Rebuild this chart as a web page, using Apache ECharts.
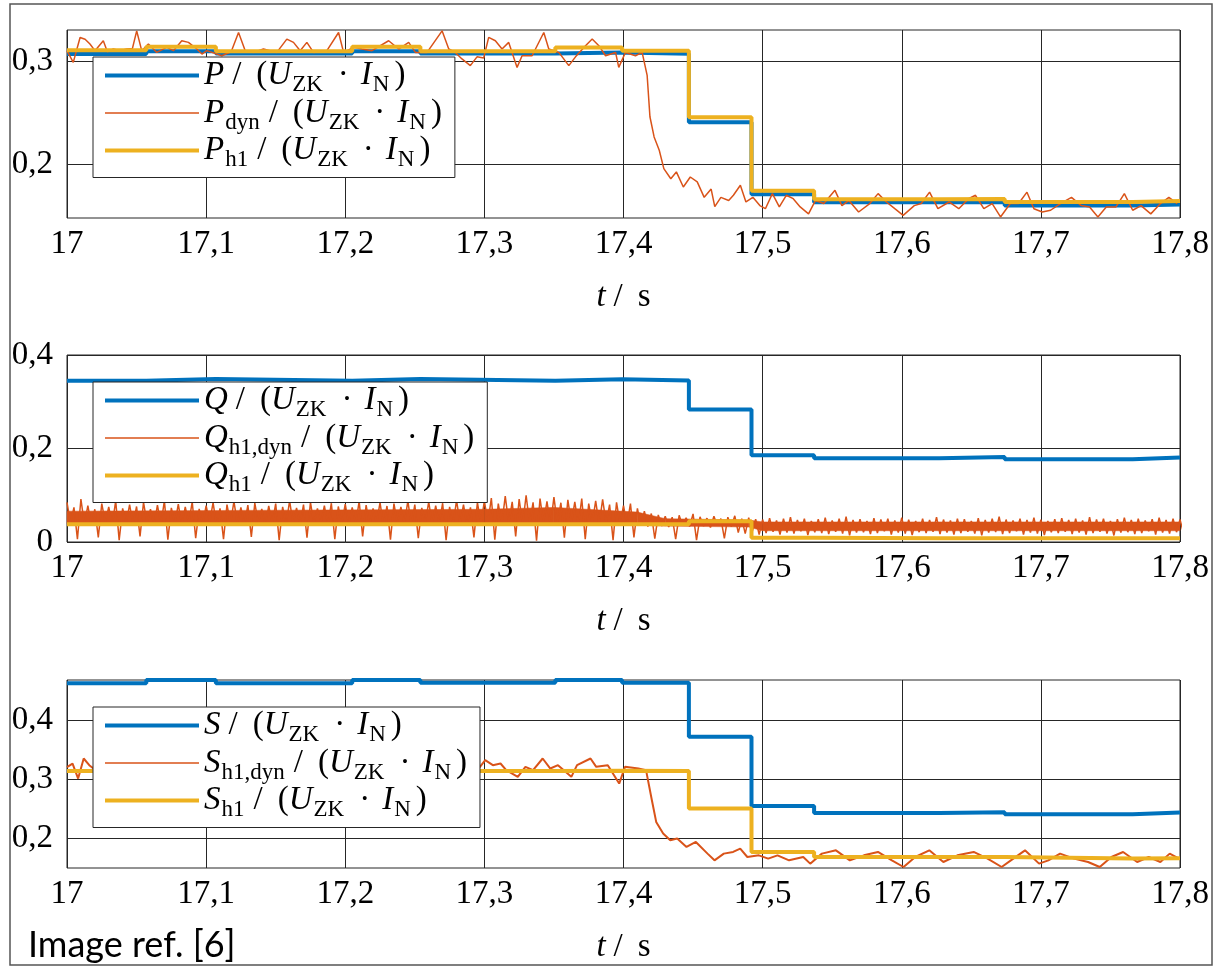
<!DOCTYPE html>
<html><head><meta charset="utf-8">
<script src="https://cdn.jsdelivr.net/npm/echarts@6/dist/echarts.min.js"></script>
<style>html,body{margin:0;padding:0;background:#fff}#c{width:1214px;height:972px}</style>
</head><body><div id="c"></div>
<script>
// ---- data ----
const xTicks = [17, 17.1, 17.2, 17.3, 17.4, 17.5, 17.6, 17.7, 17.8];
const stepT = [17.000, 17.057, 17.107, 17.205, 17.254, 17.351, 17.399, 17.447, 17.492, 17.537, 17.627, 17.674, 17.766, 17.800];
const pVals   = [0.3068, 0.3095, 0.3072, 0.3095, 0.3072, 0.3083, 0.3070, 0.2408, 0.1710, 0.1632, 0.1632, 0.1600, 0.1610, 0.1610];
const ph1Vals = [0.3105, 0.3138, 0.3095, 0.3138, 0.3095, 0.3130, 0.3100, 0.2455, 0.1745, 0.1662, 0.1665, 0.1635, 0.1645, 0.1645];
const qVals   = [0.3450, 0.3485, 0.3450, 0.3485, 0.3450, 0.3480, 0.3457, 0.2836, 0.1857, 0.1793, 0.1820, 0.1770, 0.1810, 0.1810];
const qh1Vals = [0.0380, 0.0380, 0.0380, 0.0380, 0.0380, 0.0380, 0.0380, 0.0443, 0.0090, 0.0078, 0.0082, 0.0078, 0.0082, 0.0082];
const sVals   = [0.4624, 0.4680, 0.4624, 0.4680, 0.4635, 0.4680, 0.4635, 0.3717, 0.2544, 0.2425, 0.2436, 0.2402, 0.2430, 0.2430];
const sh1Vals = [0.3135, 0.3135, 0.3135, 0.3135, 0.3135, 0.3140, 0.3135, 0.2499, 0.1762, 0.1677, 0.1677, 0.1650, 0.1655, 0.1655];

const pdynData = [
 [17.000,0.310],[17.0045,0.2987],[17.0094,0.3228],[17.013,0.321],[17.0165,0.3164],[17.0201,0.310],[17.0261,0.3196],[17.029,0.309],
 [17.0333,0.3116],[17.038,0.310],[17.0429,0.3116],[17.047,0.312],[17.0501,0.3292],[17.0537,0.310],[17.0585,0.3164],[17.0645,0.3083],
 [17.0717,0.3132],[17.0765,0.310],[17.0825,0.3196],[17.0873,0.318],[17.0933,0.3116],[17.097,0.3067],[17.1005,0.310],[17.1113,0.3051],
 [17.118,0.309],[17.1233,0.3276],[17.1281,0.310],[17.1341,0.3083],[17.1412,0.3116],[17.1508,0.3083],[17.158,0.3212],[17.1628,0.318],
 [17.1676,0.310],[17.1724,0.318],[17.1772,0.3083],[17.182,0.3090],[17.1868,0.310],[17.1952,0.3276],[17.1988,0.3083],[17.206,0.3132],
 [17.212,0.3116],[17.2192,0.310],[17.2312,0.3196],[17.2384,0.3116],[17.2456,0.318],[17.2504,0.3083],[17.2588,0.3083],[17.2696,0.3292],
 [17.2744,0.3116],[17.2791,0.3083],[17.2839,0.302],[17.2899,0.2955],[17.2947,0.304],[17.2995,0.303],[17.3031,0.3228],[17.3079,0.3196],
 [17.3127,0.3116],[17.3175,0.318],[17.3235,0.2938],[17.3271,0.3051],[17.3343,0.3051],[17.3427,0.3276],[17.3463,0.3116],[17.3535,0.3083],
 [17.3607,0.2955],[17.3655,0.304],[17.3727,0.3148],[17.3775,0.3212],[17.3823,0.3148],[17.3871,0.3051],[17.3943,0.3083],[17.3966,0.2938],
 [17.4014,0.3083],[17.4086,0.3051],[17.4134,0.3083],[17.417,0.286],[17.419,0.246],[17.422,0.2265],[17.4257,0.2136],[17.429,0.1958],
 [17.434,0.186],[17.438,0.1926],[17.443,0.178],[17.448,0.1877],[17.453,0.183],[17.458,0.168],[17.463,0.176],[17.4656,0.159],
 [17.47,0.168],[17.4756,0.165],[17.479,0.170],[17.484,0.1797],[17.488,0.1635],[17.493,0.168],[17.498,0.160],[17.502,0.157],
 [17.507,0.1716],[17.512,0.1587],[17.517,0.170],[17.522,0.1667],[17.527,0.1587],[17.533,0.152],[17.538,0.165],[17.544,0.162],
 [17.552,0.1748],[17.557,0.160],[17.562,0.165],[17.569,0.1538],[17.577,0.162],[17.583,0.1716],[17.589,0.1635],[17.595,0.157],
 [17.601,0.1506],[17.609,0.160],[17.614,0.162],[17.62,0.173],[17.626,0.157],[17.634,0.1635],[17.641,0.157],[17.648,0.1667],
 [17.653,0.170],[17.659,0.157],[17.665,0.162],[17.671,0.149],[17.678,0.162],[17.684,0.162],[17.69,0.173],[17.695,0.157],
 [17.701,0.1538],[17.707,0.1555],[17.714,0.162],[17.722,0.168],[17.729,0.160],[17.735,0.1587],[17.741,0.149],[17.747,0.1587],
 [17.754,0.1587],[17.76,0.1716],[17.766,0.1555],[17.772,0.160],[17.779,0.152],[17.786,0.162],[17.792,0.168],[17.798,0.162]
];

const sdynData = [
 [17.000,0.3201],[17.004,0.326],[17.008,0.3007],[17.012,0.3348],[17.016,0.3235],[17.02,0.316],[17.03,0.322],[17.04,0.312],
 [17.05,0.330],[17.06,0.314],[17.07,0.318],[17.08,0.322],[17.09,0.313],[17.10,0.316],[17.11,0.308],[17.12,0.330],
 [17.13,0.314],[17.14,0.315],[17.15,0.312],[17.16,0.324],[17.17,0.314],[17.18,0.318],[17.19,0.315],[17.195,0.330],
 [17.20,0.313],[17.21,0.316],[17.22,0.314],[17.23,0.323],[17.24,0.315],[17.25,0.318],[17.26,0.313],[17.27,0.332],
 [17.28,0.313],[17.29,0.300],[17.3006,0.332],[17.3061,0.3235],[17.3116,0.3263],[17.3157,0.315],[17.324,0.3037],[17.3295,0.3207],
 [17.335,0.315],[17.3419,0.3348],[17.3474,0.3178],[17.3529,0.3235],[17.3625,0.3037],[17.3666,0.3235],[17.3763,0.3348],[17.3804,0.3207],
 [17.3887,0.3235],[17.3969,0.2923],[17.4011,0.3207],[17.4107,0.3178],[17.4162,0.315],[17.4204,0.264],[17.4235,0.2272],[17.4285,0.2074],
 [17.4336,0.196],[17.4386,0.1989],[17.4453,0.1847],[17.452,0.1932],[17.4604,0.1734],[17.4654,0.162],[17.4721,0.1734],[17.4788,0.1762],
 [17.4839,0.1819],[17.489,0.1677],[17.4973,0.1705],[17.504,0.1649],[17.5107,0.1705],[17.519,0.162],[17.5292,0.1677],[17.5342,0.1564],
 [17.5426,0.1734],[17.5527,0.179],[17.5627,0.162],[17.5728,0.1705],[17.5829,0.1762],[17.5929,0.162],[17.6013,0.1507],[17.6097,0.1677],
 [17.6198,0.179],[17.6299,0.1592],[17.64,0.1705],[17.6517,0.1762],[17.6617,0.1649],[17.6718,0.1507],[17.6802,0.1649],[17.6886,0.179],
 [17.6987,0.1564],[17.7054,0.162],[17.7138,0.1734],[17.7238,0.1649],[17.7339,0.1592],[17.7423,0.1507],[17.7507,0.1677],[17.7591,0.1762],
 [17.7692,0.1592],[17.7775,0.1677],[17.7859,0.1592],[17.7926,0.1734],[17.7993,0.1649]
];

// Q_h1,dyn: upper and lower envelope of the noisy band, every 5 ms from 17.000 s
const qdynStart = 17.0, qdynStep = 0.005;
const qdynHi = [
 0.085,0.074,0.092,0.078,0.070,0.082,0.075,0.088,0.072,0.080,
 0.076,0.085,0.070,0.079,0.088,0.073,0.081,0.075,0.086,0.071,
 0.078,0.084,0.072,0.080,0.087,0.074,0.079,0.083,0.071,0.077,
 0.082,0.075,0.088,0.073,0.080,0.085,0.072,0.078,0.083,0.076,
 0.081,0.074,0.087,0.079,0.072,0.084,0.077,0.082,0.075,0.088,
 0.080,0.073,0.086,0.078,0.083,0.075,0.089,0.080,0.074,0.085,
 0.088,0.094,0.082,0.098,0.086,0.092,0.100,0.085,0.093,0.087,
 0.096,0.084,0.090,0.086,0.093,0.082,0.088,0.091,0.080,0.085,
 0.078,0.082,0.072,0.066,0.061,0.058,0.055,0.053,0.057,0.052,
 0.060,0.054,0.051,0.055,0.050,0.053,0.056,0.050,0.052,0.049,
 0.048,0.051,0.046,0.050,0.053,0.047,0.050,0.045,0.049,0.052,
 0.046,0.050,0.054,0.047,0.049,0.045,0.051,0.048,0.050,0.046,
 0.052,0.048,0.045,0.050,0.047,0.053,0.048,0.046,0.050,0.049,
 0.045,0.051,0.047,0.050,0.054,0.048,0.046,0.050,0.047,0.052,
 0.048,0.045,0.049,0.051,0.047,0.050,0.046,0.053,0.048,0.050,
 0.045,0.049,0.052,0.047,0.050,0.046,0.049,0.052,0.047,0.050,
 0.048
];
const qdynLo = [
 0.040,0.006,0.038,0.035,0.010,0.042,0.036,0.004,0.040,0.037,
 0.012,0.041,0.035,0.038,0.005,0.039,0.036,0.040,0.008,0.037,
 0.042,0.035,0.006,0.040,0.038,0.036,0.011,0.041,0.035,0.039,
 0.004,0.037,0.040,0.036,0.009,0.038,0.041,0.035,0.006,0.040,
 0.037,0.039,0.012,0.036,0.041,0.035,0.005,0.040,0.038,0.036,
 0.008,0.041,0.037,0.039,0.004,0.036,0.040,0.035,0.010,0.038,
 0.041,0.005,0.037,0.040,0.012,0.036,0.039,0.003,0.041,0.035,
 0.038,0.009,0.040,0.036,0.006,0.039,0.037,0.041,0.004,0.038,
 0.036,0.010,0.035,0.033,0.007,0.034,0.032,0.006,0.035,0.033,
 0.004,0.034,0.031,0.035,0.008,0.033,0.020,0.018,0.022,0.016,
 0.019,0.022,0.016,0.020,0.018,0.023,0.015,0.021,0.019,0.017,
 0.022,0.018,0.014,0.020,0.021,0.017,0.019,0.023,0.016,0.020,
 0.018,0.015,0.021,0.019,0.022,0.017,0.020,0.016,0.019,0.022,
 0.018,0.014,0.020,0.021,0.017,0.019,0.023,0.016,0.020,0.018,
 0.015,0.021,0.019,0.022,0.017,0.020,0.016,0.019,0.022,0.018,
 0.014,0.020,0.021,0.017,0.019,0.023,0.016,0.020,0.018,0.021,
 0.019
];
// solid core of the Q_h1,dyn band (where the trace is dense)
const qcoreT  = [17.00, 17.30, 17.35, 17.41, 17.43, 17.49, 17.50, 17.80];
const qcoreLo = [0.038, 0.038, 0.038, 0.036, 0.034, 0.032, 0.024, 0.024];
const qcoreHi = [0.066, 0.070, 0.074, 0.064, 0.050, 0.047, 0.043, 0.043];

const yTicks1 = [0.2, 0.3];
const yTicks2 = [0, 0.2, 0.4];
const yTicks3 = [0.2, 0.3, 0.4];

// ---- build ----
const BLUE = '#0072BD', ORANGE = '#D95319', YELLOW = '#EDB120';
const FONT = "'Liberation Serif', 'Times New Roman', serif";
const stepData = vals => stepT.map((t, i) => [t, vals[i]]);
const qdynData = [];
qdynHi.forEach((h, i) => {
  const t = qdynStart + i * qdynStep;
  qdynData.push([t, h]);
  qdynData.push([t + qdynStep / 2, qdynLo[i]]);
});

const unit = '{sl|/}{n|(}{it|U}{sub|ZK}{dot|·}{it|I}{sub|N}{cp|)}';
const legendText = {
  P: '{it|P}' + unit, Pdyn: '{it|P}{sub|dyn}' + unit, Ph1: '{it|P}{sub|h1}' + unit,
  Q: '{it|Q}' + unit, Qh1dyn: '{it|Q}{sub|h1,dyn}' + unit, Qh1: '{it|Q}{sub|h1}' + unit,
  S: '{it|S}' + unit, Sh1dyn: '{it|S}{sub|h1,dyn}' + unit, Sh1: '{it|S}{sub|h1}' + unit
};
const base = {fontFamily: FONT, fontSize: 33, lineHeight: 42, color: '#000'};
const rich = {
  n:   Object.assign({}, base),
  it:  Object.assign({}, base, {fontStyle: 'italic'}),
  sl:  Object.assign({}, base, {padding: [0, 15, 0, 8]}),
  dot: Object.assign({}, base, {padding: [0, 12, 0, 14]}),
  cp:  Object.assign({}, base, {padding: [0, 0, 0, 4]}),
  sub: {fontFamily: FONT, fontSize: 23, lineHeight: 26, verticalAlign: 'bottom', color: '#000', padding: [0, 1, 0, 1]}
};

const fmt = v => {
  const r = Math.round(v * 10) / 10;
  return String(r).replace('.', ',');
};

const grids = [
  {left: 67, right: 34, top: 30, height: 188},
  {left: 67, right: 34, top: 355, height: 187},
  {left: 67, right: 34, top: 680, height: 188}
];
grids.forEach(g => { g.show = true; g.borderColor = '#262626'; g.borderWidth = 1; g.backgroundColor = 'transparent'; });

const xAxes = [0, 1, 2].map(i => ({
  type: 'value', gridIndex: i, min: 17, max: 17.8, interval: 0.1,
  axisLine: {show: false}, axisTick: {show: false},
  axisLabel: {formatter: fmt, fontFamily: FONT, fontSize: 33, color: '#000', margin: 10,
              customValues: xTicks},
  splitLine: {show: true, lineStyle: {color: '#262626', width: 1}},
  name: '{it|t}{sl|/}{n|s}', nameLocation: 'middle', nameGap: 58,
  nameTextStyle: {rich: rich}
}));

const mkY = (i, min, max, ticks) => ({
  type: 'value', gridIndex: i, min: min, max: max,
  axisLine: {show: false},
  axisTick: {show: false, customValues: ticks},
  axisLabel: {formatter: fmt, fontFamily: FONT, fontSize: 33, color: '#000', margin: 14, customValues: ticks},
  splitLine: {show: true, lineStyle: {color: '#262626', width: 1}}
});
const yAxes = [mkY(0, 0.148, 0.33, yTicks1), mkY(1, 0, 0.4, yTicks2), mkY(2, 0.149, 0.468, yTicks3)];

const line = (name, i, data, color, width, step) => ({
  name: name, type: 'line', xAxisIndex: i, yAxisIndex: i, data: data,
  step: step ? 'end' : false, symbol: 'none', showSymbol: false,
  lineStyle: {color: color, width: width}, itemStyle: {color: color},
  animation: false, silent: true
});

const qcoreSeries = {
  name: 'qcore', type: 'custom', coordinateSystem: 'cartesian2d', xAxisIndex: 1, yAxisIndex: 1,
  data: qcoreT.map((t, i) => [t, qcoreLo[i], qcoreHi[i]]),
  encode: {x: 0, y: [1, 2]}, silent: true, animation: false,
  renderItem: (params, api) => {
    const i = params.dataIndex;
    if (i >= qcoreT.length - 1) return null;
    const a = api.coord([qcoreT[i], qcoreHi[i]]), b = api.coord([qcoreT[i + 1], qcoreHi[i + 1]]);
    const c = api.coord([qcoreT[i + 1], qcoreLo[i + 1]]), d = api.coord([qcoreT[i], qcoreLo[i]]);
    return {type: 'polygon', shape: {points: [a, b, c, d]}, style: {fill: ORANGE, stroke: ORANGE, lineWidth: 0.5}};
  }
};

const series = [
  line('P', 0, stepData(pVals), BLUE, 4, true),
  line('Pdyn', 0, pdynData, ORANGE, 1.5, false),
  line('Ph1', 0, stepData(ph1Vals), YELLOW, 4, true),
  line('Q', 1, stepData(qVals), BLUE, 4, true),
  qcoreSeries,
  line('Qh1dyn', 1, qdynData, ORANGE, 1.5, false),
  line('Qh1', 1, stepData(qh1Vals), YELLOW, 4, true),
  line('S', 2, stepData(sVals), BLUE, 4, true),
  line('Sh1dyn', 2, sdynData, ORANGE, 2, false),
  line('Sh1', 2, stepData(sh1Vals), YELLOW, 4, true)
];

const widthOf = {P: 4, Ph1: 4, Q: 4, Qh1: 4, S: 4, Sh1: 4, Pdyn: 1.5, Qh1dyn: 1.5, Sh1dyn: 1.5};
const mkLegend = (names, top) => ({
  data: names.map(n => ({name: n, itemStyle: {opacity: 0}, lineStyle: {width: widthOf[n]}})),
  orient: 'vertical', left: 93, top: top,
  padding: [2, 13, 6, 10], itemGap: 0, itemWidth: 94, itemHeight: 14,
  backgroundColor: '#fff', borderColor: '#262626', borderWidth: 1,
  selectedMode: false, z: 10,
  formatter: n => legendText[n],
  textStyle: {rich: rich}
});

const chart = echarts.init(document.getElementById('c'), null, {renderer: 'canvas'});
chart.setOption({
  animation: false,
  backgroundColor: '#fff',
  grid: grids, xAxis: xAxes, yAxis: yAxes, series: series,
  legend: [mkLegend(['P', 'Pdyn', 'Ph1'], 57), mkLegend(['Q', 'Qh1dyn', 'Qh1'], 382), mkLegend(['S', 'Sh1dyn', 'Sh1'], 707)],
  graphic: [
    {type: 'rect', shape: {x: 10, y: 4, width: 1202, height: 961}, style: {fill: 'none', stroke: '#555', lineWidth: 1.5}, silent: true, z: -1},
    {type: 'text', left: 28, top: 927, style: {text: 'Image ref. [6]', fontFamily: 'Lato', fontSize: 36, fill: '#000'}, silent: true}
  ]
});
</script>
</body></html>
